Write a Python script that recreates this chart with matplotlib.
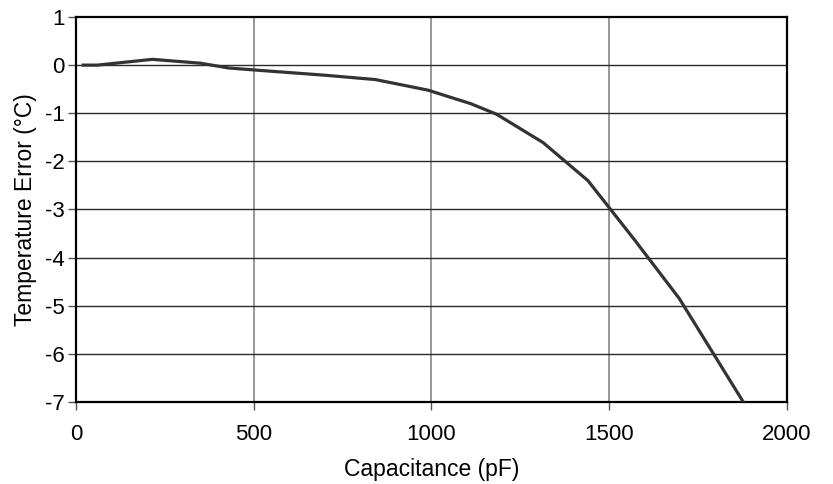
import matplotlib
matplotlib.use("Agg")
import matplotlib.pyplot as plt

# ----------------------------
# Data
# ----------------------------
capacitance = [20, 60, 215, 350, 430, 500, 700, 842, 990, 1110, 1183, 1314, 1440, 1570, 1697, 1877]
temp_error = [0.0, 0.0, 0.12, 0.04, -0.06, -0.10, -0.21, -0.30, -0.52, -0.80, -1.02, -1.61, -2.40, -3.62, -4.85, -7.0]

x_ticks = [0, 500, 1000, 1500, 2000]
y_ticks = [1, 0, -1, -2, -3, -4, -5, -6, -7]

plt.rcParams["font.family"] = ["Liberation Sans", "DejaVu Sans"]

fig = plt.figure(figsize=(8.33, 4.84), dpi=100)
ax = fig.add_axes([0.0912, 0.1694, 0.8536, 0.7955])

# grid
for xv in x_ticks[1:-1]:
    ax.axvline(xv, color="#7a7a7a", lw=1.1, zorder=1)
for yv in y_ticks[1:-1]:
    ax.axhline(yv, color="#2a2a2a", lw=1.0, zorder=1)

ax.plot(capacitance, temp_error, color="#333333", lw=2.3, zorder=3)

ax.set_xlim(0, 2000)
ax.set_ylim(-7, 1)
ax.set_xticks(x_ticks)
ax.set_yticks(y_ticks)
ax.set_yticklabels([str(v) for v in y_ticks])

for s in ax.spines.values():
    s.set_linewidth(1.6)
    s.set_color("black")

ax.tick_params(axis="both", direction="out", length=6, width=1, color="#555555",
               labelsize=16, pad=2)
ax.tick_params(axis="x", pad=10)

ax.set_xlabel("Capacitance (pF)", fontsize=16.5, labelpad=9)
ax.set_ylabel("Temperature Error (°C)", fontsize=16.5, labelpad=6)

fig.savefig("out.png", dpi=100)
